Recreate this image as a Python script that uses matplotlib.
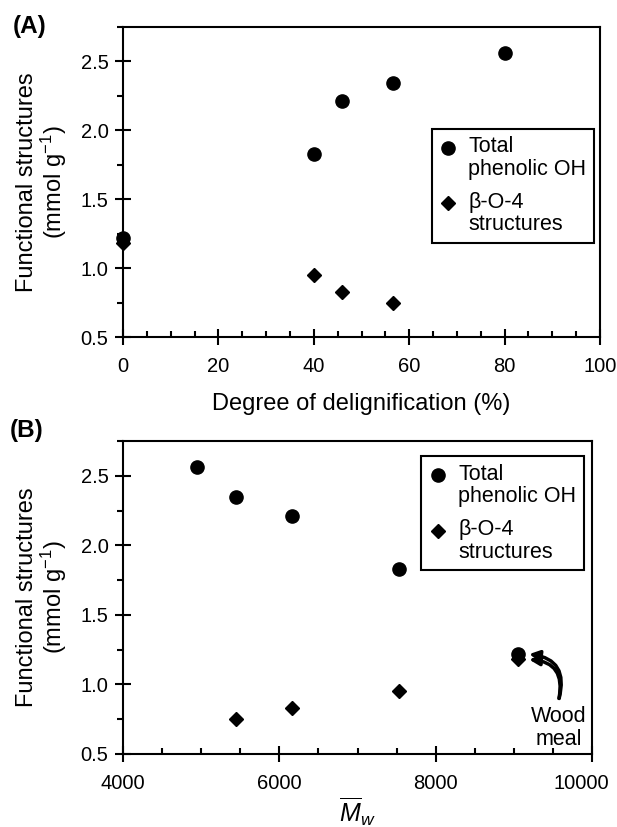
import numpy as np
import matplotlib
matplotlib.use("Agg")
import matplotlib.pyplot as plt
from matplotlib.ticker import MultipleLocator, FormatStrFormatter, FuncFormatter
from matplotlib.legend_handler import HandlerLine2D

plt.rcParams['font.family'] = ['Liberation Sans', 'DejaVu Sans']
plt.rcParams['mathtext.fontset'] = 'custom'
plt.rcParams['mathtext.rm'] = 'Liberation Sans'
plt.rcParams['mathtext.it'] = 'Liberation Sans:italic'

# samples: wood meal, then increasing delignification
degree = [0, 40, 46, 56.5, 80]                 # degree of delignification (%)
mw = [9050, 7530, 6160, 5450, 4950]             # weight-average molecular weight
phenolic = [1.22, 1.83, 2.21, 2.345, 2.56]      # total phenolic OH (mmol/g)
beta_o4 = [1.18, 0.95, 0.83, 0.75, np.nan]      # beta-O-4 structures (mmol/g)

lab_phen = 'Total\nphenolic OH'
lab_beta = '\u03b2-O-4\nstructures'

fs_tick = 14.5
fs_lab = 17
fs_leg = 15.5
xpad = 9


class TopMarker(HandlerLine2D):
    # put the legend marker beside the first line of a two-line label
    def create_artists(self, legend, orig_handle, xdescent, ydescent, width,
                       height, fontsize, trans):
        arts = super().create_artists(legend, orig_handle, xdescent, ydescent,
                                      width, height, fontsize, trans)
        for a in arts:
            a.set_ydata(np.asarray(a.get_ydata()) + 0.5 * fontsize)
        return arts


fig = plt.figure(figsize=(6.17, 8.27), dpi=100)
axA = fig.add_axes([0.1994, 0.5925, 0.773, 0.3749])
axB = fig.add_axes([0.1994, 0.0883, 0.7601, 0.3784])


def style(ax):
    for s in ax.spines.values():
        s.set_linewidth(1.5)
    ax.set_ylim(0.5, 2.75)
    ax.yaxis.set_major_locator(MultipleLocator(0.5))
    ax.yaxis.set_minor_locator(MultipleLocator(0.25))
    ax.yaxis.set_major_formatter(FormatStrFormatter('%.1f'))
    ax.tick_params(which='major', direction='inout', length=11, width=1.5,
                   labelsize=fs_tick)
    ax.tick_params(axis='y', which='major', pad=5)
    ax.tick_params(axis='x', which='major', pad=xpad)
    ax.tick_params(axis='x', which='minor', direction='in', length=4.5, width=1.5)
    ax.tick_params(axis='y', which='minor', direction='out', length=4.5, width=1.5)
    ax.tick_params(top=False, right=False)
    ax.set_ylabel('Functional structures\n(mmol g$^{-1}$)', fontsize=fs_lab,
                  linespacing=1.05, labelpad=8)


def add_legend(ax, anchor):
    leg = ax.legend(loc='upper right', bbox_to_anchor=anchor, borderaxespad=0,
                    fontsize=fs_leg, numpoints=1, handlelength=0.8,
                    handletextpad=0.55, borderpad=0.35, labelspacing=0.55,
                    fancybox=False, edgecolor='black', framealpha=1,
                    handler_map={matplotlib.lines.Line2D: TopMarker()})
    leg.get_frame().set_linewidth(1.5)
    for t in leg.get_texts():
        t.set_linespacing(1.1)
    return leg


# (A) against degree of delignification
axA.plot(degree, phenolic, 'o', color='black', ms=9.5, clip_on=False, label=lab_phen)
axA.plot(degree, beta_o4, 'D', color='black', ms=7.5, clip_on=False, label=lab_beta)
style(axA)
axA.set_xlim(0, 100)
axA.xaxis.set_major_locator(MultipleLocator(20))
axA.xaxis.set_minor_locator(MultipleLocator(5))
axA.set_xlabel('Degree of delignification (%)', fontsize=fs_lab, labelpad=12)
add_legend(axA, (0.987, 0.672))

# (B) against molecular weight
axB.plot(mw, phenolic, 'o', color='black', ms=9.5, label=lab_phen)
axB.plot(mw, beta_o4, 'D', color='black', ms=7.5, label=lab_beta)
style(axB)
xmin_b, xmax_b = 4000, 10000
axB.set_xlim(xmin_b, xmax_b)
axB.xaxis.set_major_locator(MultipleLocator(2000))
axB.xaxis.set_minor_locator(MultipleLocator(500))
# the last label is written separately, nudged left to stay on the page
axB.xaxis.set_major_formatter(FuncFormatter(lambda v, p: '' if v >= xmax_b else '%d' % v))
axB.annotate('%d' % xmax_b, xy=(xmax_b, 0), xycoords=('data', 'axes fraction'),
             xytext=(-8, -(xpad + 5.5)), textcoords='offset points',
             ha='center', va='top', fontsize=fs_tick)
axB.set_xlabel(r'$\overline{M}_{w}$', fontsize=fs_lab + 1, labelpad=2)
add_legend(axB, (0.982, 0.952))

# arrows pointing at the wood meal points
for yv in (phenolic[0], beta_o4[0]):
    axB.annotate('', xy=(mw[0] + 110, yv), xytext=(9570, 0.88),
                 arrowprops=dict(arrowstyle='-|>,head_length=0.6,head_width=0.3',
                                 connectionstyle='arc3,rad=0.6', lw=2.5, color='black'))
axB.text(9570, 0.685, 'Wood\nmeal', ha='center', va='center', fontsize=fs_leg,
         linespacing=1.15)

fig.text(0.02, 0.968, '(A)', fontsize=17.5, fontweight='bold', va='center')
fig.text(0.015, 0.480, '(B)', fontsize=17.5, fontweight='bold', va='center')

fig.savefig('out.png', dpi=100)
